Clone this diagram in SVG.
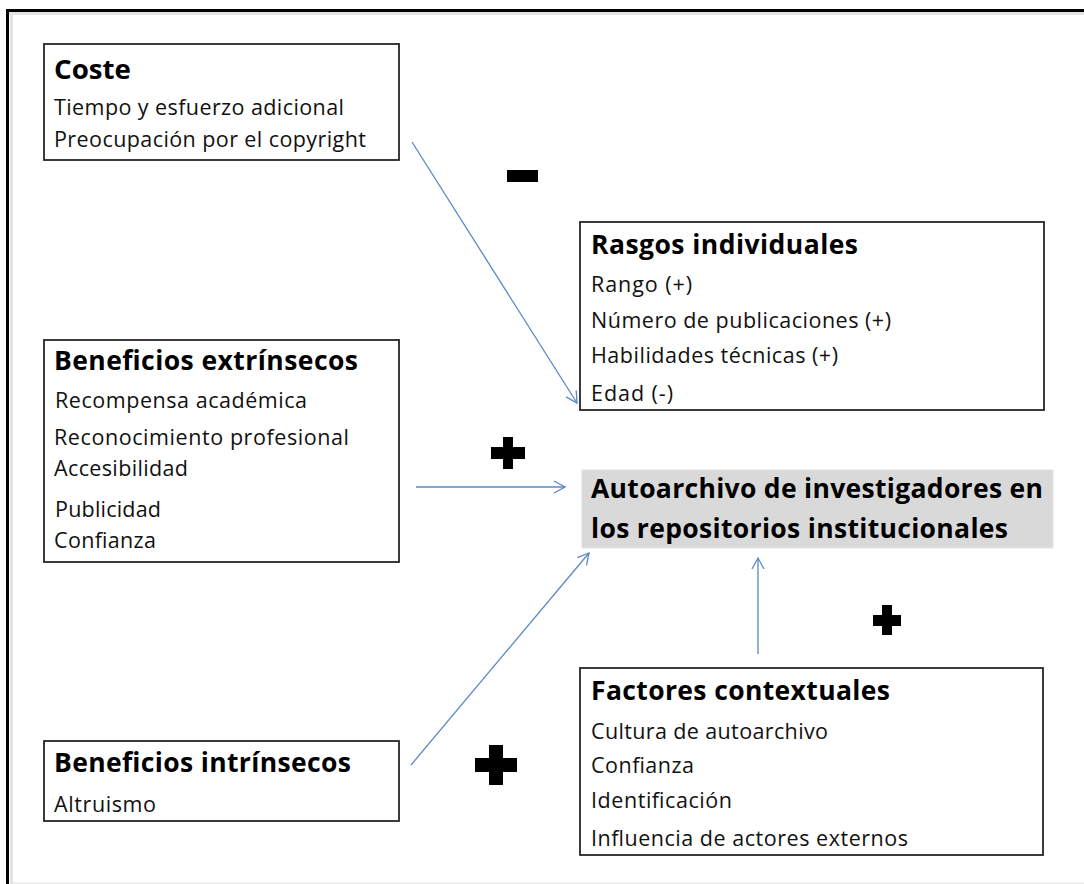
<svg xmlns="http://www.w3.org/2000/svg" width="1084" height="884" viewBox="0 0 1084 884">
<style>
.box{fill:#ffffff;stroke:#262626;stroke-width:1.8}
.hl{fill:#d9d9d9;stroke:#e2e2e2;stroke-width:1}
.t{font-family:"Open Sans","Liberation Sans",sans-serif;font-weight:bold;font-size:26.5px;fill:#000}
.tb{font-family:"Open Sans","Liberation Sans",sans-serif;font-weight:bold;font-size:26.5px;fill:#000}
.i{font-family:"Open Sans","Liberation Sans",sans-serif;font-size:21.5px;fill:#111}
.c{stroke:#5a88c4;stroke-width:1.3;fill:none}
.sym{fill:#000}
</style>
<defs>
<marker id="ah" markerUnits="userSpaceOnUse" markerWidth="16" markerHeight="16" refX="12" refY="7" orient="auto" viewBox="0 0 16 14">
<path d="M1,1 L12,7 L1,13" fill="none" stroke="#5a88c4" stroke-width="1.3"/>
</marker>
</defs>
<rect width="1084" height="884" fill="#ffffff"/>
<g id="frame">
<rect x="9" y="12" width="1075" height="3" fill="#e4e4e4"/>
<rect x="10" y="12" width="3" height="872" fill="#e4e4e4"/>
<rect x="13" y="882" width="1071" height="2" fill="#efefef"/>
<rect x="6" y="9" width="1078" height="3" fill="#000"/>
<rect x="6" y="9" width="3" height="875" fill="#000"/>
</g>
<g id="connectors">
<line class="c" x1="412" y1="142" x2="577" y2="403" marker-end="url(#ah)"/>
<line class="c" x1="416" y1="487" x2="565" y2="487" marker-end="url(#ah)"/>
<line class="c" x1="411" y1="765" x2="589" y2="553" marker-end="url(#ah)"/>
<line class="c" x1="758" y1="654" x2="758" y2="558" marker-end="url(#ah)"/>
</g>
<g id="signs">
<rect class="sym" x="507" y="170" width="31" height="12"/>
<path class="sym" d="M503,437 H513 V447 H525 V459 H513 V469 H503 V459 H491 V447 H503 Z"/>
<path class="sym" d="M489,745 H503 V758 H517 V772 H503 V785 H489 V772 H475 V758 H489 Z"/>
<path class="sym" d="M882,605 H892 V615 H901 V626 H892 V635 H882 V626 H873 V615 H882 Z"/>
</g>
<g id="coste">
<rect class="box" x="44" y="44" width="355" height="116"/>
<text class="t" x="54" y="79" textLength="77" lengthAdjust="spacingAndGlyphs">Coste</text>
<text class="i" x="54" y="115" textLength="290" lengthAdjust="spacing">Tiempo y esfuerzo adicional</text>
<text class="i" x="54" y="147" textLength="312" lengthAdjust="spacing">Preocupación por el copyright</text>
</g>
<g id="rasgos">
<rect class="box" x="580" y="222" width="464" height="188"/>
<text class="t" x="591" y="254" textLength="267" lengthAdjust="spacing">Rasgos individuales</text>
<text class="i" x="591" y="292" textLength="101" lengthAdjust="spacing">Rango (+)</text>
<text class="i" x="591" y="328" textLength="300" lengthAdjust="spacing">Número de publicaciones (+)</text>
<text class="i" x="591" y="363" textLength="247" lengthAdjust="spacing">Habilidades técnicas (+)</text>
<text class="i" x="591" y="401" textLength="82" lengthAdjust="spacing">Edad (-)</text>
</g>
<g id="extrinsecos">
<rect class="box" x="44" y="340" width="355" height="222"/>
<text class="t" x="54" y="370" textLength="304" lengthAdjust="spacing">Beneficios extrínsecos</text>
<text class="i" x="55" y="408" textLength="252" lengthAdjust="spacing">Recompensa académica</text>
<text class="i" x="54" y="445" textLength="295" lengthAdjust="spacing">Reconocimiento profesional</text>
<text class="i" x="54" y="476" textLength="134" lengthAdjust="spacing">Accesibilidad</text>
<text class="i" x="55" y="517" textLength="106" lengthAdjust="spacing">Publicidad</text>
<text class="i" x="54" y="548" textLength="102" lengthAdjust="spacing">Confianza</text>
</g>
<g id="autoarchivo">
<rect class="hl" x="582" y="470" width="471" height="78"/>
<text class="tb" x="591" y="498" textLength="452" lengthAdjust="spacing">Autoarchivo de investigadores en</text>
<text class="tb" x="591" y="538" textLength="417" lengthAdjust="spacing">los repositorios institucionales</text>
</g>
<g id="intrinsecos">
<rect class="box" x="44" y="741" width="355" height="80"/>
<text class="t" x="54" y="772" textLength="297" lengthAdjust="spacing">Beneficios intrínsecos</text>
<text class="i" x="54" y="812" textLength="102" lengthAdjust="spacing">Altruismo</text>
</g>
<g id="contextuales">
<rect class="box" x="580" y="668" width="463" height="187"/>
<text class="t" x="591" y="700" textLength="299" lengthAdjust="spacing">Factores contextuales</text>
<text class="i" x="591" y="739" textLength="237" lengthAdjust="spacing">Cultura de autoarchivo</text>
<text class="i" x="591" y="773" textLength="103" lengthAdjust="spacing">Confianza</text>
<text class="i" x="591" y="808" textLength="141" lengthAdjust="spacing">Identificación</text>
<text class="i" x="591" y="846" textLength="317" lengthAdjust="spacing">Influencia de actores externos</text>
</g>
</svg>
